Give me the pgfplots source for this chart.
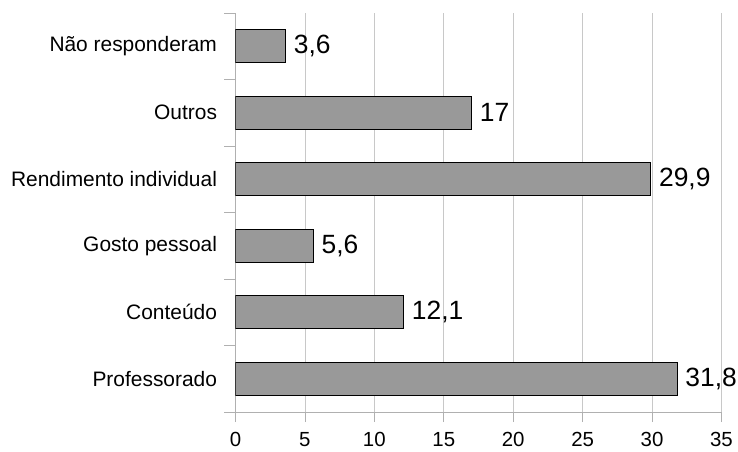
\documentclass[border=0pt]{standalone}
\usepackage{pgfplots}
\pgfplotsset{compat=1.18}
\usepackage{fontspec}
\setmainfont{Liberation Sans}

\definecolor{barfill}{HTML}{999999}
\definecolor{gridgray}{HTML}{C8C8C8}
\definecolor{axisgray}{HTML}{B0B0B0}

\begin{document}
\begin{tikzpicture}
\useasboundingbox (-235.5bp,-40bp) rectangle (502.5bp,412bp);
\begin{axis}[
  scale only axis,
  width=486bp, height=399bp,
  xmin=0, xmax=35,
  ymin=-0.5, ymax=5.5,
  xbar, bar width=33bp,
  axis x line*=bottom, axis y line*=left,
  axis line style={draw=axisgray, line width=0.8bp, -},
  xtick={0,5,...,35},
  xmajorgrids, major grid style={draw=gridgray, line width=0.8bp},
  ytick={0,1,2,3,4,5},
  yticklabels={Professorado,Conteúdo,Gosto pessoal,Rendimento individual,Outros,Não responderam},
  tick align=outside,
  major tick length=10bp,
  x tick style={draw=axisgray, line width=0.8bp},
  y tick style={draw=none},
  extra y ticks={-0.5,0.5,...,5.5},
  extra y tick labels={},
  extra y tick style={major tick length=11bp, y tick style={draw=axisgray, line width=0.8bp}},
  yticklabel style={font=\fontsize{21}{25}\selectfont, xshift=-5bp},
  xticklabel style={font=\fontsize{20.5}{24}\selectfont, inner sep=0pt, anchor=north, yshift=-10.5bp},
  /pgf/number format/assume math mode=true,
  nodes near coords,
  nodes near coords style={font=\fontsize{26.5}{30}\selectfont, anchor=west, inner sep=1bp, xshift=7bp,
    /pgf/number format/.cd, use comma, fixed, precision=1},
]
\addplot[fill=barfill, draw=black, line width=0.8bp] coordinates {
  (31.8,0) (12.1,1) (5.6,2) (29.9,3) (17,4) (3.6,5)
};
\end{axis}
\end{tikzpicture}
\end{document}
